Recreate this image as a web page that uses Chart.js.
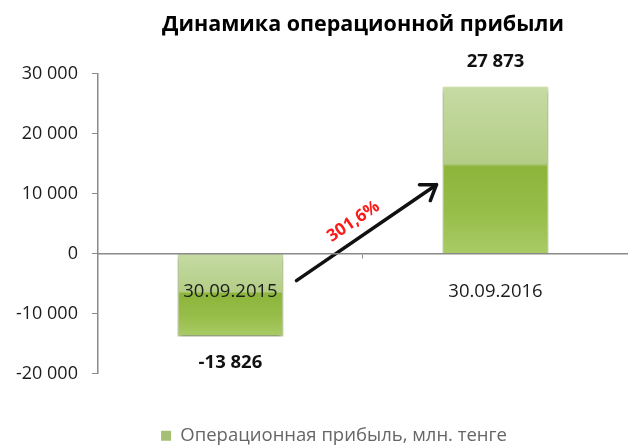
<!DOCTYPE html>
<html>
<head>
<meta charset="utf-8">
<script src="https://cdn.jsdelivr.net/npm/chart.js@4"></script>
<style>
  html, body { margin: 0; padding: 0; background: #fff; }
  #wrap { width: 628px; height: 445px; }
</style>
</head>
<body>
<div id="wrap"><canvas id="myChart" width="628" height="445"></canvas></div>
<script>
  // DATA
  const chartTitle = 'Динамика операционной прибыли';
  const seriesLabel = 'Операционная прибыль, млн. тенге';
  const dates = ['30.09.2015', '30.09.2016'];
  const profit = [-13826, 27873];
  const growthText = '301,6%';
  const yMin = -20000;
  const yMax = 30000;
  const yStep = 10000;

  // numbers like "27 873"
  function fmt(v) {
    return String(v).replace(/\B(?=(\d{3})+(?!\d))/g, ' ');
  }

  const FONT = 'Open Sans';

  // glossy green fill, split in two halves like the excel style
  function barFill(ctx) {
    const chart = ctx.chart;
    const y = chart.scales.y;
    if (!y || ctx.raw === undefined) return '#9bc24c';
    const top = y.getPixelForValue(Math.max(ctx.raw, 0));
    const bot = y.getPixelForValue(Math.min(ctx.raw, 0));
    const g = chart.ctx.createLinearGradient(0, top, 0, bot);
    g.addColorStop(0, '#c6dba4');
    g.addColorStop(0.46, '#b3cd86');
    g.addColorStop(0.48, '#8cb53a');
    g.addColorStop(0.75, '#97bd49');
    g.addColorStop(1, '#a9cb66');
    return g;
  }

  // values above / below the bars
  const valueLabels = {
    id: 'valueLabels',
    afterDatasetsDraw(chart) {
      const c = chart.ctx;
      const meta = chart.getDatasetMeta(0);
      c.save();
      c.font = 'bold 18.5px "' + FONT + '"';
      c.fillStyle = '#111';
      c.textAlign = 'center';
      c.textBaseline = 'middle';
      meta.data.forEach((bar, i) => {
        const v = profit[i];
        const yy = v >= 0 ? bar.y - 25 : bar.y + 26;
        c.fillText(fmt(v), bar.x, yy);
      });
      c.restore();
    }
  };

  // growth arrow between the two bars
  const growthArrow = {
    id: 'growthArrow',
    afterDatasetsDraw(chart) {
      const c = chart.ctx;
      const meta = chart.getDatasetMeta(0);
      const y = chart.scales.y;
      const b1 = meta.data[0], b2 = meta.data[1];
      const x1 = b1.x + b1.width / 2 + 13, y1 = y.getPixelForValue(-4500);
      const x2 = b2.x - b2.width / 2 - 6, y2 = y.getPixelForValue(11500);
      const ang = Math.atan2(y2 - y1, x2 - x1);
      c.save();
      c.strokeStyle = '#111';
      c.lineWidth = 3.5;
      c.lineCap = 'round';
      c.lineJoin = 'round';
      c.beginPath();
      c.moveTo(x1, y1);
      c.lineTo(x2, y2);
      c.stroke();
      const h = 17;
      c.beginPath();
      c.moveTo(x2 - h * Math.cos(ang - 0.6), y2 - h * Math.sin(ang - 0.6));
      c.lineTo(x2, y2);
      c.lineTo(x2 - h * Math.cos(ang + 0.6), y2 - h * Math.sin(ang + 0.6));
      c.stroke();
      // red percentage along the arrow
      const mx = (x1 + x2) / 2 - 13, my = (y1 + y2) / 2 - 11;
      c.translate(mx, my);
      c.rotate(ang);
      c.font = 'bold 17px "' + FONT + '"';
      c.fillStyle = '#ff1a1a';
      c.textAlign = 'center';
      c.textBaseline = 'middle';
      c.fillText(growthText, 0, 0);
      c.restore();
    }
  };

  // soft shadow under bars
  const barShadow = {
    id: 'barShadow',
    beforeDatasetsDraw(chart) {
      const c = chart.ctx;
      c.save();
      c.shadowColor = 'rgba(0,0,0,0.35)';
      c.shadowBlur = 5;
      c.shadowOffsetY = 3;
    },
    afterDatasetsDraw(chart) {
      chart.ctx.restore();
    }
  };

  const data = {
    labels: dates,
    datasets: [{
      label: seriesLabel,
      data: profit,
      backgroundColor: barFill,
      borderColor: '#cfe3a9',
      borderWidth: 1.5,
      barPercentage: 0.4,
      categoryPercentage: 1
    }]
  };

  const config = {
    type: 'bar',
    data,
    plugins: [barShadow, valueLabels, growthArrow],
    options: {
      responsive: false,
      animation: false,
      // legend sits a bit right of canvas centre in the original, so the box runs past the right edge
      layout: { padding: { left: 2, right: -38, top: 0, bottom: -10 } },
      plugins: {
        title: {
          display: true,
          text: chartTitle,
          fullSize: false,
          color: '#000',
          font: { family: FONT, size: 21.5, weight: 'bold' },
          padding: { top: 12, bottom: 36 }
        },
        legend: {
          position: 'bottom',
          title: { display: true, text: ' ', font: { size: 10 }, padding: { top: 33, bottom: 0 } },
          labels: {
            color: '#222',
            boxWidth: 10,
            boxHeight: 10,
            padding: 8,
            font: { family: FONT, size: 18.5 },
            generateLabels() {
              return [{ text: seriesLabel, fillStyle: '#a5c075', strokeStyle: '#a5c075', lineWidth: 0, datasetIndex: 0 }];
            }
          }
        },
        tooltip: { enabled: false }
      },
      scales: {
        x: {
          position: { y: 0 },
          grid: { display: true, drawOnChartArea: false, drawTicks: true, tickLength: 4, color: '#8a8a8a' },
          border: { display: true, color: '#8a8a8a', width: 1.5, z: 1 },
          ticks: {
            z: 1,
            color: '#1c1c1c',
            padding: 23,
            font: { family: FONT, size: 18.5 }
          }
        },
        y: {
          min: yMin,
          max: yMax,
          grid: { drawOnChartArea: false, drawTicks: true, tickLength: 6, color: '#8a8a8a' },
          border: { display: true, color: '#8a8a8a', width: 1.5 },
          ticks: {
            stepSize: yStep,
            color: '#1c1c1c',
            padding: 14,
            font: { family: FONT, size: 18 },
            callback: (v) => fmt(v)
          }
        },
        // empty spacer off the right edge of the canvas
        yPad: {
          position: 'right',
          afterFit: (scale) => { scale.width = 38; },
          grid: { display: false },
          border: { display: false },
          ticks: { display: false }
        }
      }
    }
  };

  var myChart = new Chart(document.getElementById('myChart'), config);
</script>
</body>
</html>
